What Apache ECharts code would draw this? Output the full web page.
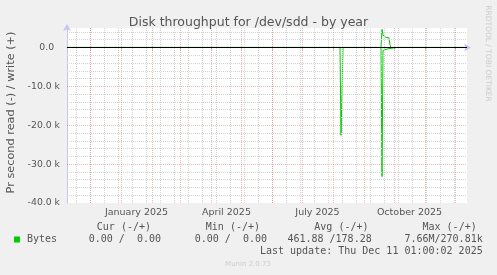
<!DOCTYPE html>
<html><head><meta charset="utf-8">
<script src="https://cdn.jsdelivr.net/npm/echarts@6.0.0/dist/echarts.min.js"></script>
<style>html,body{margin:0;padding:0;background:#f0f0f0}#c{width:497px;height:275px}</style>
</head><body><div id="c"></div>
<script>
const chartTitle = 'Disk throughput for /dev/sdd - by year';
const yAxisName = 'Pr second read (-) / write (+)';
const dates = ['2024-11-08','2025-08-07','2025-08-08','2025-08-09','2025-08-10','2025-08-31','2025-09-01','2025-09-02',
  '2025-09-17','2025-09-18','2025-09-19','2025-09-20','2025-09-21','2025-09-22','2025-09-23','2025-09-24','2025-09-25',
  '2025-09-26','2025-09-27','2025-10-03','2025-10-04','2025-10-05','2025-10-17','2025-10-18','2025-10-19',
  '2025-10-21','2025-10-22','2025-10-23','2025-12-11'];
const readValues = [0,0,-22600,-22600,0,0,-250,0,
  0,-33200,-800,-700,-550,-500,-400,-350,-300,
  -150,0,0,-200,0,0,-250,0,
  0,-250,0,0];
const writeValues = [0,0,0,0,0,0,0,0,
  0,4650,3150,3000,3000,2600,2600,2500,2500,
  600,0,0,0,0,0,0,0,
  0,0,0,0];
const xTickLabels = ['January 2025','April 2025','July 2025','October 2025'];
const xTickDates = ['2025-01-16','2025-04-16','2025-07-16','2025-10-16'];
const yTickValues = [0,-10000,-20000,-30000,-40000];
const yTickLabels = ['0.0','-10.0 k','-20.0 k','-30.0 k','-40.0 k'];
const legendHeaders = ['Cur (-/+)','Min (-/+)','Avg (-/+)','Max (-/+)'];
const legendValues = ['0.00 /  0.00','0.00 /  0.00','461.88 /178.28','7.66M/270.81k'];
const seriesName = 'Bytes';
const lastUpdate = 'Last update: Thu Dec 11 01:00:02 2025';
const versionText = 'Munin 2.0.73';
const creditText = 'RRDTOOL / TOBI OETIKER';

const DAY = 864e5;
const ts = s => Date.parse(s + 'T12:00:00Z');
const xMin = Date.UTC(2024, 10, 7, 12);
const xMax = xMin + 400 * DAY;
const labelTs = xTickDates.map(s => Date.parse(s + 'T00:00:00Z'));

const green = '#00cc00';
const txt = '#555555';
const gridGray = '#d4d4d4';
const gridRed = 'rgba(225,70,70,0.38)';
const axisBlue = '#c4c4f4';

const monthStarts = [];
for (let y = 2024, m = 11; Date.UTC(y, m, 1) < xMax; m++) {
  if (m > 11) { m = 0; y++; }
  const t = Date.UTC(y, m, 1);
  if (t > xMin && t < xMax) monthStarts.push(t);
}
const minorX = [];
for (let t = Date.UTC(2024, 10, 17); t < xMax; t += 14 * DAY) minorX.push(t);
const minorY = [];
for (let v = -38000; v <= 4000; v += 2000) if (v % 10000 !== 0) minorY.push(v);
const majorY = [-30000, -20000, -10000];

const dotted = (c) => ({ color: c, type: [1, 1], width: 1 });
const gridLines = [];
minorX.forEach(t => gridLines.push({ xAxis: t, lineStyle: dotted(gridGray) }));
minorY.forEach(v => gridLines.push({ yAxis: v, lineStyle: dotted(gridGray) }));
monthStarts.forEach(t => gridLines.push({ xAxis: t, lineStyle: dotted(gridRed) }));
majorY.forEach(v => gridLines.push({ yAxis: v, lineStyle: dotted(gridRed) }));

const readData = dates.map((d, i) => [ts(d), readValues[i]]);
const writeData = dates.map((d, i) => [ts(d), writeValues[i]]);

const chart = echarts.init(document.getElementById('c'), null, { renderer: 'canvas' });
const sans = 'DejaVu Sans';
const rightXs = [151, 260, 368.5, 476.7];
const valRightXs = [161, 267, 371.7, 482.7];
const graphics = [
  { type: 'text', x: 11, y: 112.5, rotation: Math.PI / 2, style: { text: yAxisName, fill: txt, font: '11.3px "DejaVu Sans"', textAlign: 'center', textVerticalAlign: 'middle' } },
  { type: 'text', x: 488, y: 53.5, rotation: -Math.PI / 2, style: { text: creditText, fill: '#cccccc', font: '7.5px "DejaVu Sans"', textAlign: 'center', textVerticalAlign: 'middle' } },
  { type: 'rect', shape: { x: 14, y: 236.5, width: 6, height: 6 }, style: { fill: green } },
  { type: 'text', x: 27, y: 239.5, style: { text: seriesName, fill: txt, font: '10px "DejaVu Sans Mono"', textAlign: 'left', textVerticalAlign: 'middle' } },
  { type: 'text', x: 482.7, y: 251, style: { text: lastUpdate, fill: txt, font: '10px "DejaVu Sans Mono"', textAlign: 'right', textVerticalAlign: 'middle' } },
  { type: 'text', x: 248, y: 264, style: { text: versionText, fill: '#cccccc', font: '7px "DejaVu Sans"', textAlign: 'center', textVerticalAlign: 'middle' } }
];
legendHeaders.forEach((h, i) => graphics.push({ type: 'text', x: rightXs[i], y: 227.5, style: { text: h, fill: txt, font: '10px "DejaVu Sans Mono"', textAlign: 'right', textVerticalAlign: 'middle' } }));
legendValues.forEach((h, i) => graphics.push({ type: 'text', x: valRightXs[i], y: 239.5, style: { text: h, fill: txt, font: '10px "DejaVu Sans Mono"', textAlign: 'right', textVerticalAlign: 'middle' } }));

chart.setOption({
  animation: false,
  backgroundColor: '#f0f0f0',
  title: { text: chartTitle, left: 'center', top: 11, textStyle: { fontFamily: sans, fontSize: 12.5, fontWeight: 'normal', color: txt } },
  grid: { left: 67, top: 28, width: 400, height: 175, show: true, backgroundColor: '#ffffff', borderWidth: 0, containLabel: false, outerBoundsMode: 'none' },
  xAxis: {
    type: 'value', min: xMin, max: xMax,
    axisLine: { show: true, lineStyle: { color: axisBlue, width: 1 }, symbol: ['none', 'arrow'], symbolSize: [6, 7], symbolOffset: [0, 4] },
    axisTick: { show: true, customValues: monthStarts, length: 3, lineStyle: { color: gridRed } },
    axisLabel: { customValues: labelTs, margin: 5, color: txt, fontFamily: sans, fontSize: 9.5,
      formatter: v => { const i = labelTs.indexOf(v); return i >= 0 ? xTickLabels[i] : ''; } },
    splitLine: { show: false }
  },
  yAxis: {
    type: 'value', min: -40000, max: 5000, interval: 10000,
    axisLine: { show: true, lineStyle: { color: axisBlue, width: 1 }, symbol: ['none', 'arrow'], symbolSize: [6, 7], symbolOffset: [0, 4] },
    axisTick: { show: false },
    axisLabel: { margin: 7, color: txt, fontFamily: sans, fontSize: 9.3,
      formatter: v => { const i = yTickValues.indexOf(v); if (i < 0) return ''; const s = yTickLabels[i]; return s.indexOf(' k') < 0 ? s + '  ' : s; } },
    splitLine: { show: false }
  },
  graphic: graphics,
  series: [
    { type: 'line', z: 1, data: [], silent: true,
      markLine: { silent: true, symbol: ['none', 'none'], label: { show: false }, emphasis: { disabled: true }, animation: false, data: gridLines } },
    { name: seriesName + ' read', type: 'line', z: 3, data: readData, showSymbol: false, silent: true, lineStyle: { color: green, width: 1 } },
    { name: seriesName + ' write', type: 'line', z: 3, data: writeData, showSymbol: false, silent: true, lineStyle: { color: green, width: 1 } },
    { type: 'line', z: 4, data: [], silent: true,
      markLine: { silent: true, symbol: ['none', 'none'], label: { show: false }, emphasis: { disabled: true }, animation: false,
        data: [{ yAxis: 0, lineStyle: { color: '#000000', type: 'solid', width: 1.2 } }] } }
  ]
});
</script></body></html>
